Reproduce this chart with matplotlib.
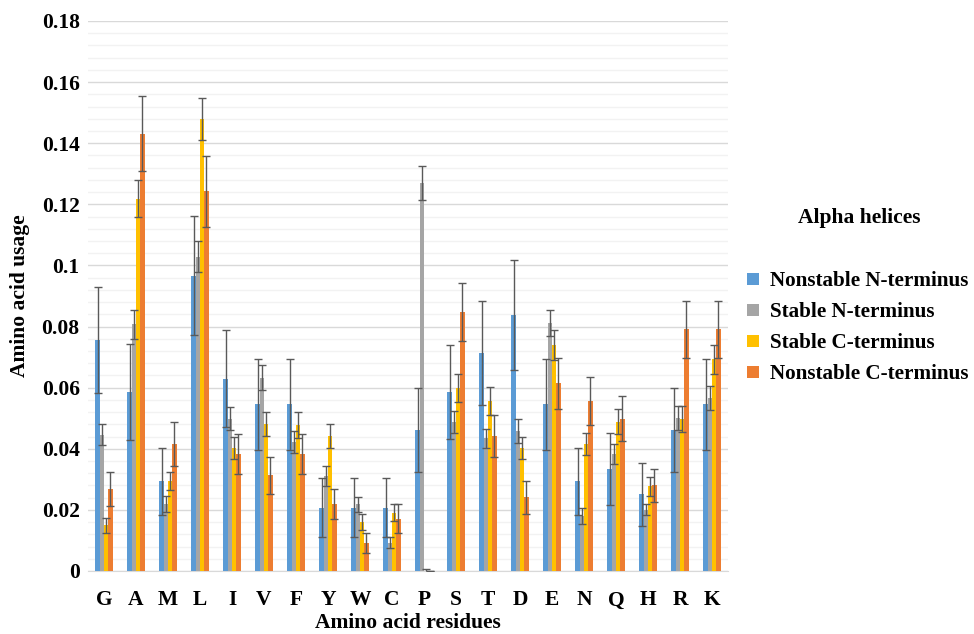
import numpy as np
import matplotlib.pyplot as plt
from matplotlib.patches import Patch

# amino acid usage in alpha helices
residues = ['G', 'A', 'M', 'L', 'I', 'V', 'F', 'Y', 'W', 'C',
            'P', 'S', 'T', 'D', 'E', 'N', 'Q', 'H', 'R', 'K']

nonstable_n = [0.0755, 0.0586, 0.0293, 0.0966, 0.0630, 0.0545, 0.0545, 0.0207, 0.0207, 0.0207,
               0.0461, 0.0586, 0.0713, 0.0839, 0.0545, 0.0293, 0.0335, 0.0251, 0.0461, 0.0545]
nonstable_n_err = [0.0174, 0.0157, 0.0110, 0.0195, 0.0158, 0.0150, 0.0150, 0.0096, 0.0096, 0.0096,
                   0.0138, 0.0155, 0.0170, 0.0180, 0.0150, 0.0110, 0.0118, 0.0103, 0.0138, 0.0150]

stable_n = [0.0446, 0.0807, 0.0219, 0.1029, 0.0498, 0.0633, 0.0422, 0.0312, 0.0218, 0.0092,
            0.1269, 0.0489, 0.0434, 0.0459, 0.0811, 0.0180, 0.0382, 0.0201, 0.0501, 0.0566]
stable_n_err = [0.0035, 0.0047, 0.0025, 0.0052, 0.0038, 0.0040, 0.0035, 0.0033, 0.0025, 0.0018,
                0.0055, 0.0036, 0.0031, 0.0039, 0.0043, 0.0027, 0.0033, 0.0017, 0.0038, 0.0039]

stable_c = [0.0149, 0.1219, 0.0295, 0.1479, 0.0404, 0.0482, 0.0478, 0.0442, 0.0160, 0.0191,
            0.0, 0.0599, 0.0556, 0.0404, 0.0740, 0.0417, 0.0489, 0.0277, 0.0498, 0.0693]
stable_c_err = [0.0025, 0.0062, 0.0030, 0.0069, 0.0036, 0.0040, 0.0042, 0.0039, 0.0025, 0.0027,
                0.0005, 0.0045, 0.0045, 0.0036, 0.0048, 0.0036, 0.0041, 0.0030, 0.0043, 0.0048]

nonstable_c = [0.0268, 0.1431, 0.0417, 0.1243, 0.0382, 0.0313, 0.0382, 0.0219, 0.0092, 0.0171,
               0.0, 0.0849, 0.0442, 0.0241, 0.0614, 0.0557, 0.0499, 0.0280, 0.0791, 0.0791]
nonstable_c_err = [0.0056, 0.0123, 0.0072, 0.0116, 0.0066, 0.0060, 0.0066, 0.0050, 0.0033, 0.0047,
                   0.0, 0.0095, 0.0070, 0.0055, 0.0084, 0.0079, 0.0074, 0.0055, 0.0093, 0.0093]

series = [
    ('Nonstable N-terminus', nonstable_n, nonstable_n_err, '#5B9BD5'),
    ('Stable N-terminus', stable_n, stable_n_err, '#A5A5A5'),
    ('Stable C-terminus', stable_c, stable_c_err, '#FFC000'),
    ('Nonstable C-terminus', nonstable_c, nonstable_c_err, '#ED7D31'),
]

plt.rcParams['font.family'] = ['Liberation Serif', 'DejaVu Serif']
plt.rcParams['font.weight'] = 'bold'
fs = 15.5

fig = plt.figure(figsize=(9.74, 6.34), dpi=100)
ax = fig.add_axes([88 / 974, 1 - 571 / 634, 640 / 974, 550 / 634])

x = np.arange(len(residues))
w = 0.135
for i, (name, vals, errs, col) in enumerate(series):
    ax.bar(x + (i - 1.5) * w, vals, w, color=col, yerr=errs, zorder=3,
           error_kw=dict(ecolor='#595959', elinewidth=1, capsize=3, capthick=1))

ax.set_xlim(-0.5, len(residues) - 0.5)
ax.set_ylim(0, 0.18)
ax.set_yticks(np.arange(0, 0.181, 0.02))
ax.set_yticklabels(['0'] + [f'{v:g}' for v in np.arange(0.02, 0.181, 0.02)])
ax.set_yticks(np.arange(0, 0.18, 0.004), minor=True)
ax.set_xticks(x)
ax.set_xticklabels(residues)
ax.tick_params(axis='both', length=0, labelsize=fs)
ax.tick_params(axis='x', pad=14)
ax.tick_params(axis='y', pad=6)
ax.tick_params(which='minor', length=0)
ax.grid(axis='y', which='major', color='#D9D9D9', lw=1, zorder=0)
ax.grid(axis='y', which='minor', color='#F2F2F2', lw=1, zorder=0)
for s in ['top', 'right', 'left']:
    ax.spines[s].set_visible(False)
ax.spines['bottom'].set_color('#D9D9D9')

ax.set_xlabel('Amino acid residues', fontsize=fs, fontweight='bold', labelpad=2)
ax.set_ylabel('Amino acid usage', fontsize=fs, fontweight='bold', labelpad=8)

fig.text(859 / 974, 1 - 218 / 634, 'Alpha helices', fontsize=fs, fontweight='bold',
         ha='center', va='center')
handles = [Patch(facecolor=c, label=n) for n, _, _, c in series]
fig.legend(handles=handles, loc='upper left', bbox_to_anchor=(739 / 974, 1 - 263 / 634),
           frameon=False, prop=dict(size=15.2, weight='bold'), handlelength=0.55,
           handleheight=0.55, handletextpad=0.5, labelspacing=0.52, borderaxespad=0)

fig.savefig('out.png', dpi=100)
